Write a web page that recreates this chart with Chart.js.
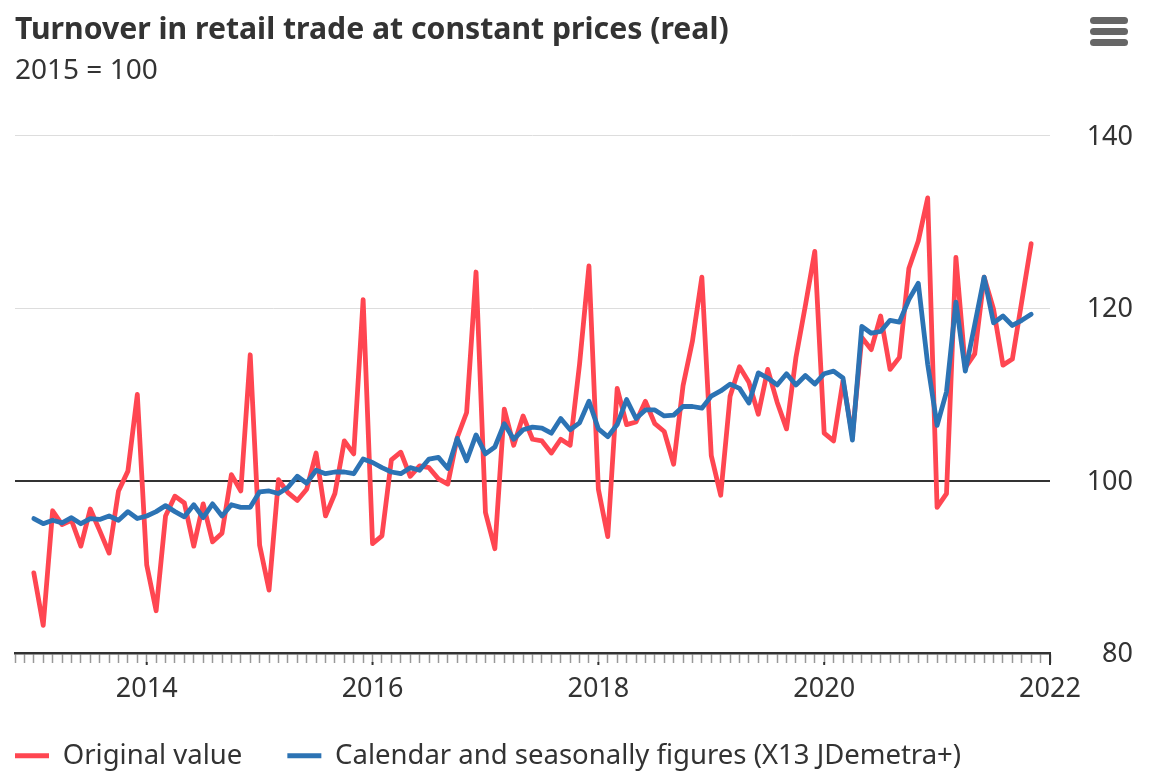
<!DOCTYPE html>
<html>
<head>
<meta charset="utf-8">
<title>Turnover in retail trade</title>
<script src="https://cdn.jsdelivr.net/npm/chart.js@4"></script>
<style>
  html, body { margin: 0; padding: 0; background: #fff; }
  #wrap { position: relative; width: 1160px; height: 779px; }
  #menu { position: absolute; left: 1090px; top: 17px; width: 38px; }
  #menu span { display: block; height: 7px; margin-bottom: 4px; border-radius: 4px; background: #666; }
</style>
</head>
<body>
<div id="wrap">
  <canvas id="myChart" width="1160" height="779"></canvas>
  <div id="menu"><span></span><span></span><span></span></div>
</div>
<script>
var titleText = "Turnover in retail trade at constant prices (real)";
var subtitleText = "2015 = 100";
var seriesNames = ["Original value", "Calendar and seasonally figures (X13 JDemetra+)"];
var tickYears = ["2014", "2016", "2018", "2020", "2022"];
var yTicks = [80, 100, 120, 140];

// monthly values, Jan 2013 to Nov 2021
var original = [
  89.3, 83.2, 96.5, 94.9, 95.4, 92.4, 96.7, 94.2, 91.6, 98.8, 101.1, 110.0,
  90.2, 84.9, 95.9, 98.2, 97.4, 92.4, 97.3, 92.9, 93.9, 100.7, 98.8, 114.6,
  92.5, 87.3, 100.1, 98.6, 97.7, 99.0, 103.2, 95.9, 98.5, 104.6, 103.1, 121.0,
  92.7, 93.6, 102.4, 103.3, 100.5, 101.7, 101.5, 100.2, 99.6, 105.0, 107.9, 124.2,
  96.3, 92.1, 108.3, 104.1, 107.5, 104.8, 104.6, 103.2, 104.8, 104.1, 113.5, 124.9,
  99.0, 93.5, 110.7, 106.5, 106.8, 109.2, 106.6, 105.7, 101.9, 111.0, 116.2, 123.6,
  102.9, 98.3, 109.8, 113.2, 111.4, 107.7, 112.9, 109.1, 106.0, 114.3, 120.3, 126.6,
  105.5, 104.6, 111.6, 105.2, 116.6, 115.2, 119.1, 112.9, 114.3, 124.6, 127.8, 132.8,
  96.9, 98.5, 125.9, 113.1, 114.7, 123.6, 119.9, 113.4, 114.1, 120.8, 127.5
];
var adjusted = [
  95.6, 95.0, 95.4, 95.1, 95.7, 95.0, 95.6, 95.5, 95.9, 95.4, 96.4, 95.6,
  95.9, 96.4, 97.1, 96.4, 95.8, 97.2, 95.7, 97.3, 95.9, 97.2, 96.9, 96.9,
  98.7, 98.8, 98.5, 99.2, 100.5, 99.7, 101.2, 100.8, 101.0, 101.0, 100.8, 102.5,
  102.1, 101.5, 101.0, 100.8, 101.5, 101.2, 102.5, 102.7, 101.4, 104.9, 102.3, 105.3,
  103.1, 103.9, 106.6, 104.8, 105.9, 106.2, 106.1, 105.5, 107.2, 105.9, 106.7, 109.2,
  106.0, 105.1, 106.5, 109.4, 107.2, 108.2, 108.2, 107.5, 107.6, 108.6, 108.6, 108.4,
  109.8, 110.4, 111.2, 110.7, 109.0, 112.5, 111.9, 111.1, 112.4, 111.1, 112.2, 111.2,
  112.4, 112.7, 111.9, 104.7, 117.9, 117.1, 117.3, 118.6, 118.4, 121.0, 122.9, 113.5,
  106.4, 110.3, 120.7, 112.7, 118.1, 123.6, 118.3, 119.1, 118.0, 118.6, 119.3
];

// axis runs Nov 2012 to Jan 2022, one category per month
var months = ["2012-11", "2012-12"];
for (var y = 2013; y <= 2021; y++) {
  for (var m = 1; m <= 12; m++) {
    months.push(y + "-" + String(m).padStart(2, "0"));
  }
}
months.push("2022-01");

function isMajor(label) {
  return label.slice(5) == "01" && tickYears.includes(label.slice(0, 4));
}

var fontName = "'Noto Sans'";
var textColor = "#333333";
var legendGap = 45;

// the year ticks reach a little lower than the month ticks
var yearTicks = {
  id: "yearTicks",
  afterLayout(chart) {
    // legend padding is also added before the first item, take it back
    chart.legend.left -= legendGap;
  },
  afterDraw(chart) {
    var scale = chart.scales.x;
    var ctx = chart.ctx;
    ctx.save();
    ctx.strokeStyle = "#333333";
    ctx.lineWidth = 2;
    months.forEach(function (label, i) {
      if (!isMajor(label)) return;
      var px = scale.getPixelForValue(i);
      var top = label == "2022-01" ? scale.top : scale.top + 9;
      ctx.beginPath();
      ctx.moveTo(px, top);
      ctx.lineTo(px, scale.top + 12);
      ctx.stroke();
    });
    ctx.restore();
  }
};

new Chart(document.getElementById("myChart"), {
  type: "line",
  data: {
    labels: months,
    datasets: [
      {
        label: seriesNames[0],
        data: [null, null].concat(original),
        borderColor: "#ff4651",
        backgroundColor: "#ff4651",
        borderWidth: 4.8,
        order: 2
      },
      {
        label: seriesNames[1],
        data: [null, null].concat(adjusted),
        borderColor: "#2c73b4",
        backgroundColor: "#2c73b4",
        borderWidth: 4.8,
        order: 1
      }
    ]
  },
  plugins: [yearTicks],
  options: {
    responsive: false,
    animation: false,
    layout: { padding: { left: 15, right: 27, top: 12, bottom: 0 } },
    elements: {
      point: { radius: 0 },
      line: { tension: 0, borderJoinStyle: "round", borderCapStyle: "round" }
    },
    plugins: {
      tooltip: { enabled: false },
      title: {
        display: true,
        text: titleText,
        align: "start",
        color: textColor,
        font: { family: fontName, size: 30.2, weight: "700" },
        padding: { top: 0, bottom: 0 }
      },
      subtitle: {
        display: true,
        text: subtitleText,
        align: "start",
        color: textColor,
        font: { family: fontName, size: 28, weight: "400" },
        padding: { top: 6, bottom: 48 }
      },
      legend: {
        position: "bottom",
        align: "start",
        maxHeight: 82,
        labels: {
          color: textColor,
          font: { family: fontName, size: 27.5 },
          boxWidth: 34,
          boxHeight: 5,
          padding: legendGap,
          sort: function (a, b) { return a.datasetIndex - b.datasetIndex; },
          generateLabels: function (chart) {
            var items = Chart.defaults.plugins.legend.labels.generateLabels(chart);
            items.forEach(function (item) { item.lineWidth = 0; });
            return items;
          }
        }
      }
    },
    scales: {
      x: {
        type: "category",
        offset: false,
        afterFit: function (axis) { axis.height = 44; },
        grid: {
          drawOnChartArea: false,
          drawTicks: true,
          tickLength: 10,
          tickWidth: 1.5,
          tickColor: "#999999"
        },
        border: { display: true, color: "#333333", width: 2.5 },
        ticks: {
          autoSkip: false,
          maxRotation: 0,
          minRotation: 0,
          padding: 10,
          color: textColor,
          font: { family: fontName, size: 27 },
          callback: function (val) {
            var label = this.getLabelForValue(val);
            return isMajor(label) ? label.slice(0, 4) : "";
          }
        }
      },
      y: {
        position: "right",
        min: 80,
        max: 140,
        afterBuildTicks: function (axis) {
          axis.ticks = yTicks.map(function (v) { return { value: v }; });
        },
        afterFit: function (axis) { axis.width = 83; },
        grid: {
          drawTicks: false,
          color: function (c) { return c.tick.value == 100 ? "#333333" : "#dddddd"; },
          lineWidth: function (c) { return c.tick.value == 100 ? 2 : 1; }
        },
        border: { display: false },
        ticks: {
          crossAlign: "far",
          labelOffset: 1.5,
          color: textColor,
          font: { family: fontName, size: 27 }
        }
      }
    }
  }
});
</script>
</body>
</html>
